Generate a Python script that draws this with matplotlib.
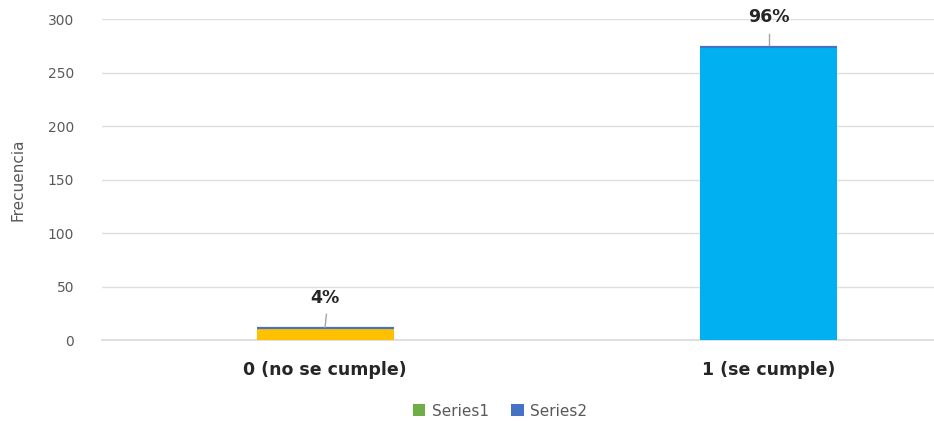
import matplotlib
matplotlib.use("Agg")
import matplotlib.pyplot as plt
from matplotlib.patches import Patch

categories = ["0 (no se cumple)", "1 (se cumple)"]
frecuencia = [11, 274]
pct_labels = ["4%", "96%"]
bar_colors = ["#FFC000", "#00B0F0"]
legend_names = ["Series1", "Series2"]
legend_colors = ["#70AD47", "#4472C4"]
yticks = [0, 50, 100, 150, 200, 250, 300]

fig = plt.figure(figsize=(9.34, 4.21), dpi=100)
ax = fig.add_axes([102/934, 1-340/421, 1-102/934, (340-19.3)/421])

x = list(range(len(categories)))
w = 0.309
ax.bar(x, frecuencia, width=w, color=bar_colors, zorder=2)
ax.hlines(frecuencia, [xi - w/2 for xi in x], [xi + w/2 for xi in x],
          color="#4472C4", lw=1.6, zorder=3)

ax.set_xlim(-0.503, 1.373)
ax.set_ylim(0, 300)
ax.set_yticks(yticks)
ax.set_yticklabels([str(t) for t in yticks], fontsize=10, color="#595959")
ax.set_xticks(x)
ax.set_xticklabels(categories, fontsize=12.5, fontweight="bold", color="#262626")
ax.tick_params(axis="y", length=0, pad=20)
ax.tick_params(axis="x", length=0, pad=15)
for s in ax.spines.values():
    s.set_visible(False)
ax.grid(axis="y", color="#DEDEDE", lw=1, zorder=0)
ax.axhline(0, color="#D9D9D9", lw=1.2, zorder=1, clip_on=False)
ax.set_axisbelow(True)
ax.set_ylabel("Frecuencia", fontsize=11, color="#595959", labelpad=16)

# data labels with leader lines
for xi, v, lab in zip(x, frecuencia, pct_labels):
    if v < 50:
        ax.plot([xi, xi + 0.003], [v + 1, v + 13], color="#A6A6A6", lw=1, zorder=3, clip_on=False)
    else:
        ax.plot([xi, xi], [v + 2, v + 12], color="#A6A6A6", lw=1, zorder=3, clip_on=False)
    ax.text(xi, v + 28, lab, ha="center", va="center", fontsize=12.5,
            fontweight="bold", color="#262626", clip_on=False)

handles = [Patch(facecolor=c, edgecolor="none") for c in legend_colors]
fig.legend(handles, legend_names, loc="center", bbox_to_anchor=(500/934, 1-411/421),
           ncol=2, frameon=False, fontsize=11, labelcolor="#595959",
           handlelength=0.8, handleheight=0.8, handletextpad=0.4, columnspacing=1.5)

fig.savefig("out.png", dpi=100)
